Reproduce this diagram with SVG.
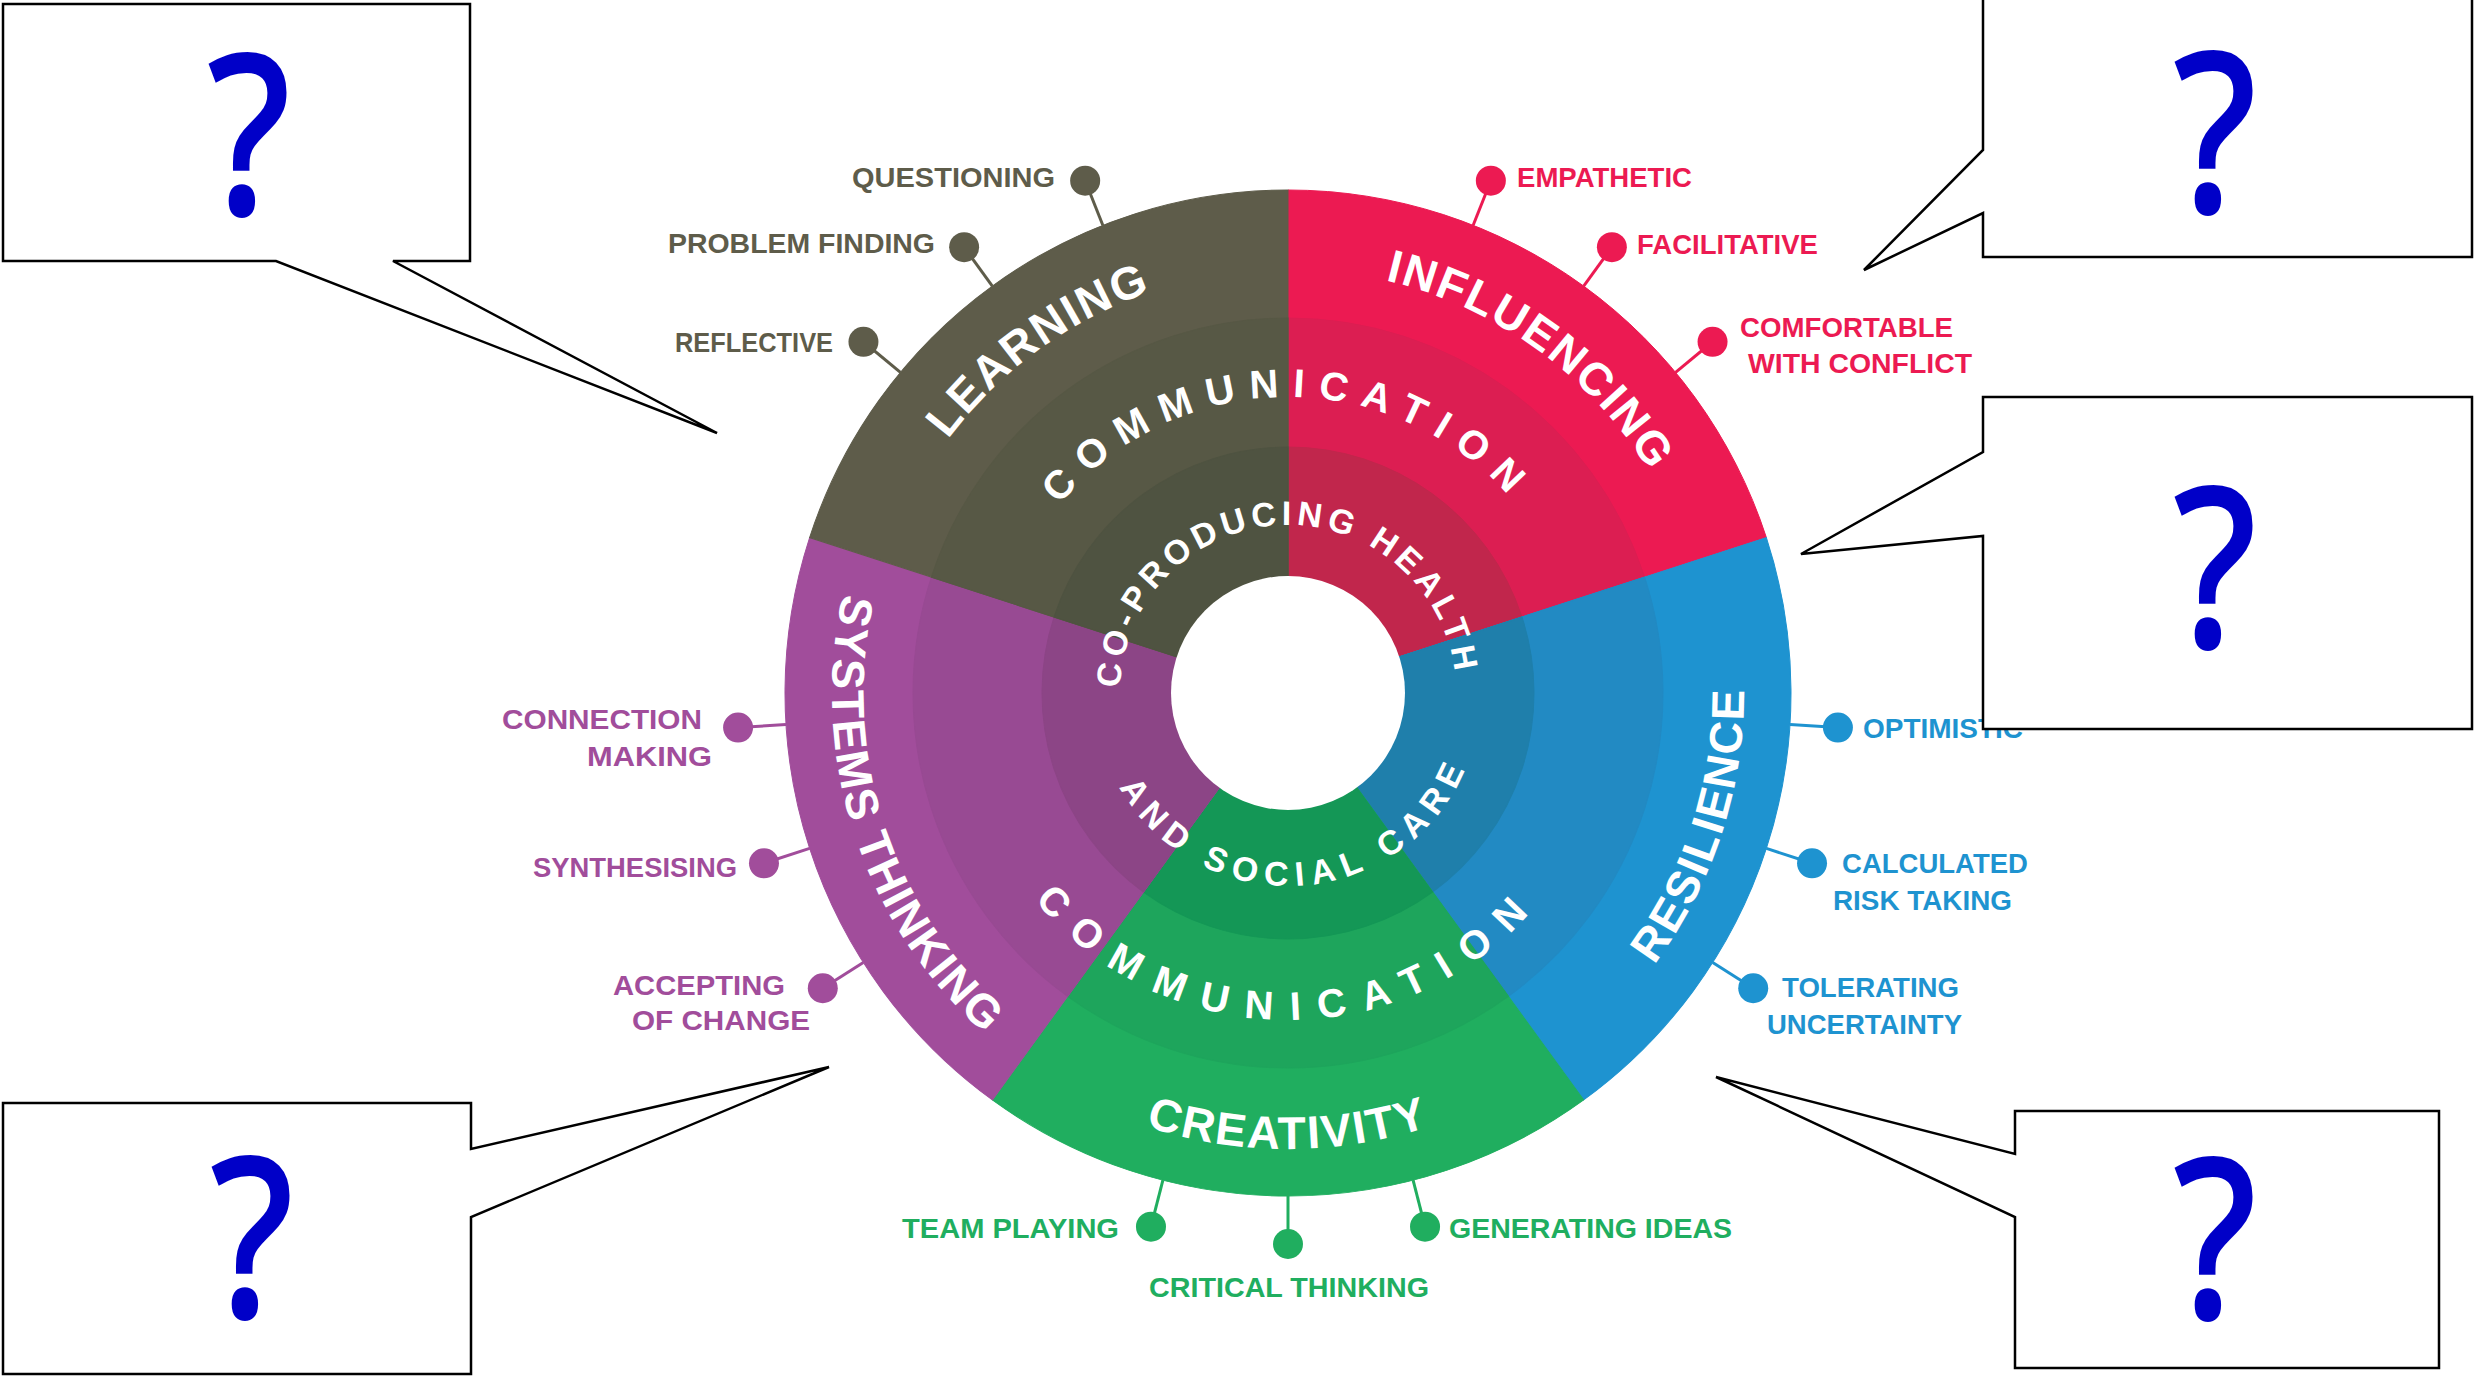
<svg xmlns="http://www.w3.org/2000/svg" xmlns:xlink="http://www.w3.org/1999/xlink" width="2483" height="1376" viewBox="0 0 2483 1376">
<style>
.f{font-family:"Liberation Sans",Arial,sans-serif;font-weight:bold}
.cat{font-size:46px;fill:#fff;letter-spacing:2px}
.comm{font-size:40px;fill:#fff}
.core{font-size:34px;fill:#fff}
.lbl{font-size:28px}
.q{font-family:"Noto Sans","Open Sans",sans-serif;font-size:220px;fill:#0000c8;stroke:#0000c8;stroke-width:4}
.callout{fill:#fff;stroke:#000;stroke-width:2.5;stroke-linejoin:miter}
.conn line{stroke-width:3}
.lrn1{fill:#5e5c4a;stroke:#5e5c4a}.lrn2{fill:#575845;stroke:#575845}.lrn3{fill:#4f5341;stroke:#4f5341}
.inf1{fill:#ec1a52;stroke:#ec1a52}.inf2{fill:#dc1e52;stroke:#dc1e52}.inf3{fill:#c1264c;stroke:#c1264c}
.res1{fill:#1e93d0;stroke:#1e93d0}.res2{fill:#228ac3;stroke:#228ac3}.res3{fill:#1f7fab;stroke:#1f7fab}
.cre1{fill:#20ae5f;stroke:#20ae5f}.cre2{fill:#1ea55c;stroke:#1ea55c}.cre3{fill:#149756;stroke:#149756}
.sys1{fill:#a14d9b;stroke:#a14d9b}.sys2{fill:#984a93;stroke:#984a93}.sys3{fill:#8c4586;stroke:#8c4586}
.cL{fill:#5e5c4a}.cI{fill:#ec1a52}.cR{fill:#1e93d0}.cC{fill:#20ae5f}.cS{fill:#a14d9b}
.sL{stroke:#5e5c4a}.sI{stroke:#ec1a52}.sR{stroke:#1e93d0}.sC{stroke:#20ae5f}.sS{stroke:#a14d9b}
</style>
<defs>
<path id="w1" d="M1288,693 L1288,190 A503,503 0 0 1 1766.38,537.56 Z" stroke-width="1"/>
<path id="w2" d="M1288,693 L1288,318 A375,375 0 0 1 1644.65,577.12 Z" stroke-width="1"/>
<path id="w3" d="M1288,693 L1288,447 A246,246 0 0 1 1521.96,616.98 Z" stroke-width="1"/>
<path id="aLearn" d="M866.32,737.32 A424,424 0 0 1 1460.46,305.66"/>
<path id="aInf" d="M1115.54,305.66 A424,424 0 0 1 1709.68,737.32"/>
<path id="aRes" d="M1382.81,1139.04 A456,456 0 0 0 1626.87,387.88"/>
<path id="aCre" d="M893.09,921 A456,456 0 0 0 1682.91,921"/>
<path id="aSys" d="M949.13,387.88 A456,456 0 0 0 1193.19,1139.04"/>
<path id="aCommT" d="M1009.85,591.76 A296,296 0 0 1 1566.15,591.76"/>
<path id="aCommB" d="M980.72,804.84 A327,327 0 0 0 1595.28,804.84"/>
<path id="aCoT" d="M1123.67,727.93 A168,168 0 1 1 1454.37,716.38"/>
<path id="aCoB" d="M1096.06,672.83 A193,193 0 1 0 1475.27,646.31"/>
</defs>
<rect width="2483" height="1376" fill="#fff"/>

<g id="wheel">
  <g id="seg-influencing">
    <use href="#w1" class="inf1"/><use href="#w2" class="inf2"/><use href="#w3" class="inf3"/>
  </g>
  <g id="seg-resilience" transform="rotate(72 1288 693)">
    <use href="#w1" class="res1"/><use href="#w2" class="res2"/><use href="#w3" class="res3"/>
  </g>
  <g id="seg-creativity" transform="rotate(144 1288 693)">
    <use href="#w1" class="cre1"/><use href="#w2" class="cre2"/><use href="#w3" class="cre3"/>
  </g>
  <g id="seg-systems" transform="rotate(216 1288 693)">
    <use href="#w1" class="sys1"/><use href="#w2" class="sys2"/><use href="#w3" class="sys3"/>
  </g>
  <g id="seg-learning" transform="rotate(288 1288 693)">
    <use href="#w1" class="lrn1"/><use href="#w2" class="lrn2"/><use href="#w3" class="lrn3"/>
  </g>
  <circle cx="1288" cy="693" r="117" fill="#fff"/>
</g>

<g id="wheel-text">
  <text id="t-learning" class="f cat"><textPath href="#aLearn" startOffset="50%" text-anchor="middle">LEARNING</textPath></text>
  <text id="t-influencing" class="f cat"><textPath href="#aInf" startOffset="50%" text-anchor="middle">INFLUENCING</textPath></text>
  <text id="t-resilience" class="f cat"><textPath href="#aRes" startOffset="50%" text-anchor="middle">RESILIENCE</textPath></text>
  <text id="t-creativity" class="f cat"><textPath href="#aCre" startOffset="50%" text-anchor="middle">CREATIVITY</textPath></text>
  <text id="t-systems" class="f cat"><textPath href="#aSys" startOffset="50%" text-anchor="middle">SYSTEMS THINKING</textPath></text>
  <text id="t-comm-top" class="f comm" letter-spacing="13.6"><textPath href="#aCommT" startOffset="50%" text-anchor="middle">COMMUNICATION</textPath></text>
  <text id="t-comm-bottom" class="f comm" letter-spacing="17.9"><textPath href="#aCommB" startOffset="50%" text-anchor="middle">COMMUNICATION</textPath></text>
  <text id="t-core-top" class="f core" letter-spacing="4.8"><textPath href="#aCoT" startOffset="50%" text-anchor="middle">CO-PRODUCING HEALTH</textPath></text>
  <text id="t-core-bottom" class="f core" letter-spacing="8"><textPath href="#aCoB" startOffset="50%" text-anchor="middle">AND SOCIAL CARE</textPath></text>
</g>

<g id="connectors" class="conn">
  <line class="sL" x1="900.43" y1="372.38" x2="863.45" y2="341.78"/>
  <line class="sL" x1="992.34" y1="286.06" x2="964.13" y2="247.23"/>
  <line class="sL" x1="1102.83" y1="225.32" x2="1085.16" y2="180.69"/>
  <line class="sI" x1="1473.17" y1="225.32" x2="1490.84" y2="180.69"/>
  <line class="sI" x1="1583.66" y1="286.06" x2="1611.87" y2="247.23"/>
  <line class="sI" x1="1675.57" y1="372.38" x2="1712.55" y2="341.78"/>
  <line class="sR" x1="1790.01" y1="724.58" x2="1837.91" y2="727.60"/>
  <line class="sR" x1="1766.38" y1="848.44" x2="1812.03" y2="863.27"/>
  <line class="sR" x1="1712.70" y1="962.52" x2="1753.22" y2="988.24"/>
  <line class="sC" x1="1413.09" y1="1180.20" x2="1425.03" y2="1226.69"/>
  <line class="sC" x1="1288" y1="1196" x2="1288" y2="1244"/>
  <line class="sC" x1="1162.91" y1="1180.20" x2="1150.97" y2="1226.69"/>
  <line class="sS" x1="785.99" y1="724.58" x2="738.09" y2="727.60"/>
  <line class="sS" x1="809.62" y1="848.44" x2="763.97" y2="863.27"/>
  <line class="sS" x1="863.30" y1="962.52" x2="822.78" y2="988.24"/>
</g>

<g id="lbl-questioning"><circle class="cL" cx="1085.16" cy="180.69" r="15"/><text class="f lbl cL" x="852" y="187" textLength="203" lengthAdjust="spacingAndGlyphs">QUESTIONING</text></g>
<g id="lbl-problem-finding"><circle class="cL" cx="964.13" cy="247.23" r="15"/><text class="f lbl cL" x="668" y="253" textLength="267" lengthAdjust="spacingAndGlyphs">PROBLEM FINDING</text></g>
<g id="lbl-reflective"><circle class="cL" cx="863.45" cy="341.78" r="15"/><text class="f lbl cL" x="675" y="352" textLength="158" lengthAdjust="spacingAndGlyphs">REFLECTIVE</text></g>

<g id="lbl-empathetic"><circle class="cI" cx="1490.84" cy="180.69" r="15"/><text class="f lbl cI" x="1517" y="187" textLength="175" lengthAdjust="spacingAndGlyphs">EMPATHETIC</text></g>
<g id="lbl-facilitative"><circle class="cI" cx="1611.87" cy="247.23" r="15"/><text class="f lbl cI" x="1637" y="254" textLength="181" lengthAdjust="spacingAndGlyphs">FACILITATIVE</text></g>
<g id="lbl-comfortable"><circle class="cI" cx="1712.55" cy="341.78" r="15"/><text class="f lbl cI" x="1740" y="337" textLength="213" lengthAdjust="spacingAndGlyphs">COMFORTABLE</text><text class="f lbl cI" x="1748" y="373" textLength="224" lengthAdjust="spacingAndGlyphs">WITH CONFLICT</text></g>

<g id="lbl-optimistic"><circle class="cR" cx="1837.91" cy="727.60" r="15"/><text class="f lbl cR" x="1863" y="738" textLength="160" lengthAdjust="spacingAndGlyphs">OPTIMISTIC</text></g>
<g id="lbl-calculated"><circle class="cR" cx="1812.03" cy="863.27" r="15"/><text class="f lbl cR" x="1842" y="873" textLength="186" lengthAdjust="spacingAndGlyphs">CALCULATED</text><text class="f lbl cR" x="1833" y="910" textLength="179" lengthAdjust="spacingAndGlyphs">RISK TAKING</text></g>
<g id="lbl-tolerating"><circle class="cR" cx="1753.22" cy="988.24" r="15"/><text class="f lbl cR" x="1782" y="997" textLength="177" lengthAdjust="spacingAndGlyphs">TOLERATING</text><text class="f lbl cR" x="1767" y="1034" textLength="195" lengthAdjust="spacingAndGlyphs">UNCERTAINTY</text></g>

<g id="lbl-team-playing"><circle class="cC" cx="1150.97" cy="1226.69" r="15"/><text class="f lbl cC" x="902" y="1238" textLength="217" lengthAdjust="spacingAndGlyphs">TEAM PLAYING</text></g>
<g id="lbl-critical-thinking"><circle class="cC" cx="1288" cy="1244" r="15"/><text class="f lbl cC" x="1149" y="1297" textLength="280" lengthAdjust="spacingAndGlyphs">CRITICAL THINKING</text></g>
<g id="lbl-generating-ideas"><circle class="cC" cx="1425.03" cy="1226.69" r="15"/><text class="f lbl cC" x="1449" y="1238" textLength="283" lengthAdjust="spacingAndGlyphs">GENERATING IDEAS</text></g>

<g id="lbl-connection"><circle class="cS" cx="738.09" cy="727.60" r="15"/><text class="f lbl cS" x="502" y="729" textLength="200" lengthAdjust="spacingAndGlyphs">CONNECTION</text><text class="f lbl cS" x="587" y="766" textLength="125" lengthAdjust="spacingAndGlyphs">MAKING</text></g>
<g id="lbl-synthesising"><circle class="cS" cx="763.97" cy="863.27" r="15"/><text class="f lbl cS" x="533" y="877" textLength="204" lengthAdjust="spacingAndGlyphs">SYNTHESISING</text></g>
<g id="lbl-accepting"><circle class="cS" cx="822.78" cy="988.24" r="15"/><text class="f lbl cS" x="613" y="995" textLength="172" lengthAdjust="spacingAndGlyphs">ACCEPTING</text><text class="f lbl cS" x="632" y="1030" textLength="178" lengthAdjust="spacingAndGlyphs">OF CHANGE</text></g>

<g id="callout-1"><polygon class="callout" points="3,4 470,4 470,261 393,261 717,433 276,261 3,261"/><text class="q" transform="translate(249,213) scale(0.85,1)" text-anchor="middle">?</text></g>
<g id="callout-2"><polygon class="callout" points="1983,-5 2472,-5 2472,257 1983,257 1983,213 1864,270 1983,150"/><text class="q" transform="translate(2215,211) scale(0.85,1)" text-anchor="middle">?</text></g>
<g id="callout-3"><polygon class="callout" points="1983,397 2472,397 2472,729 1983,729 1983,536 1801,554 1983,452"/><text class="q" transform="translate(2215,646) scale(0.85,1)" text-anchor="middle">?</text></g>
<g id="callout-4"><polygon class="callout" points="3,1103 471,1103 471,1149 829,1067 471,1217 471,1374 3,1374"/><text class="q" transform="translate(252,1316) scale(0.85,1)" text-anchor="middle">?</text></g>
<g id="callout-5"><polygon class="callout" points="2015,1111 2439,1111 2439,1368 2015,1368 2015,1217 1716,1077 2015,1154"/><text class="q" transform="translate(2215,1317) scale(0.85,1)" text-anchor="middle">?</text></g>
</svg>
